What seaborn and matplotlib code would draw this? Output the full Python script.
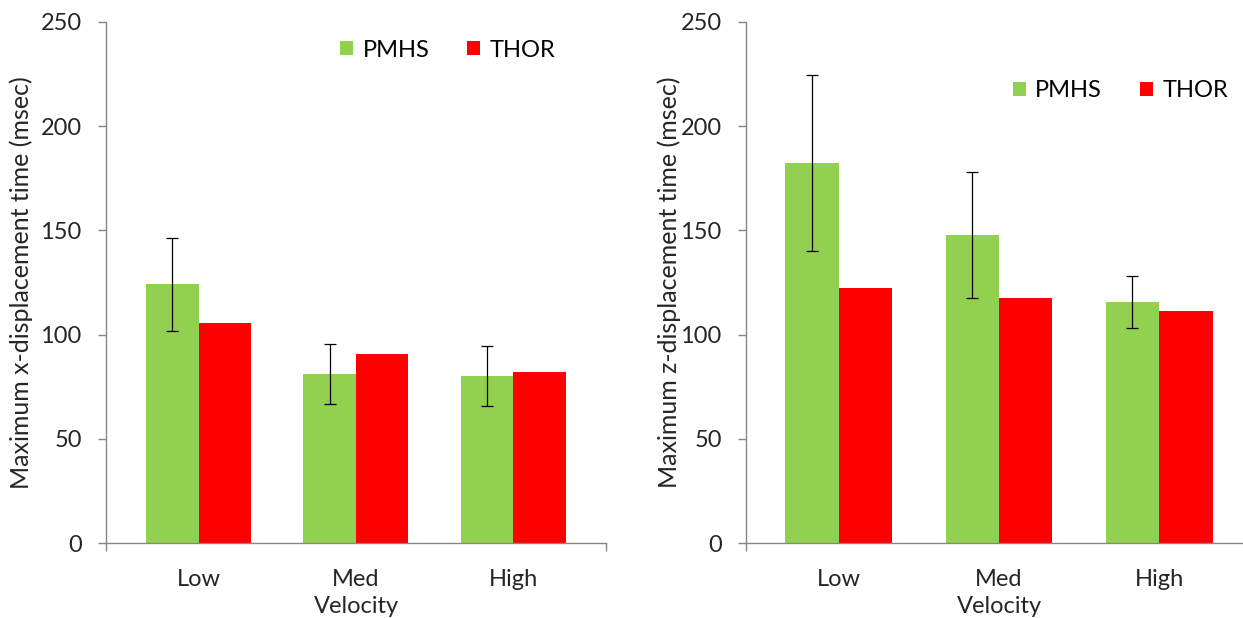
import matplotlib
matplotlib.use("Agg")
import matplotlib.pyplot as plt
import seaborn as sns
import pandas as pd
import numpy as np

categories = ["Low", "Med", "High"]
series = ["PMHS", "THOR"]

x_pmhs = [124.1, 81.1, 79.9]
x_pmhs_err = [22.3, 14.5, 14.4]
x_thor = [105.5, 90.5, 82.2]

z_pmhs = [182.4, 147.7, 115.7]
z_pmhs_err = [42.2, 30.2, 12.6]
z_thor = [122.5, 117.4, 111.2]

colors = {"PMHS": "#92D050", "THOR": "#FF0000"}

sns.set_theme(style="white")
plt.rcParams["font.family"] = ["Lato", "DejaVu Sans"]

fig = plt.figure(figsize=(12.43, 6.18), dpi=100)
W, H = 1243, 618
ax1 = fig.add_axes([106 / W, (H - 543) / H, 500 / W, 521 / H])
ax2 = fig.add_axes([746 / W, (H - 543) / H, 506 / W, 521 / H])

gray = "#868686"
fs_tick = 17
fs_lab = 18
fs_leg = 17


def panel(ax, pmhs, err, thor, ylabel, label_x, leg_anchor, xlim):
    df = pd.DataFrame({
        "Velocity": categories * 2,
        "Series": ["PMHS"] * 3 + ["THOR"] * 3,
        "Value": list(pmhs) + list(thor),
    })
    sns.barplot(data=df, x="Velocity", y="Value", hue="Series",
                hue_order=series, order=categories, palette=colors,
                errorbar=None, width=0.667, saturation=1, ax=ax,
                linewidth=0)
    cont = ax.containers[0]
    xs = [b.get_x() + b.get_width() / 2 for b in cont]
    ax.errorbar(xs, pmhs, yerr=err, fmt="none", ecolor="black",
                elinewidth=0.9, capsize=4.3, capthick=0.9, zorder=5)
    ax.set_xlim(*xlim)
    ax.set_ylim(0, 250)
    ax.set_yticks([0, 50, 100, 150, 200, 250])
    ax.set_ylabel(ylabel, fontsize=fs_lab)
    ax.yaxis.set_label_coords(label_x, 0.5)
    ax.set_xlabel("Velocity", fontsize=17, labelpad=4)
    for s in ["top", "right"]:
        ax.spines[s].set_visible(False)
    for s in ["left", "bottom"]:
        ax.spines[s].set_color(gray)
        ax.spines[s].set_linewidth(1.0)
    ax.tick_params(axis="y", which="major", direction="out", length=5.5,
                   color=gray, width=1.0, labelsize=fs_tick, pad=12,
                   left=True)
    ax.tick_params(axis="x", which="major", length=0, labelsize=17,
                   pad=19)
    ax.set_xticks(list(xlim), minor=True)
    ax.tick_params(axis="x", which="minor", direction="out", length=6,
                   color=gray, width=1.0, bottom=True)
    ax.grid(False)
    leg = ax.legend(loc="center", bbox_to_anchor=leg_anchor, ncol=2,
                    frameon=False, fontsize=fs_leg, handlelength=0.55,
                    handleheight=0.55, handletextpad=0.4,
                    columnspacing=1.6)
    for t in leg.get_texts():
        t.set_color("black")


panel(ax1, x_pmhs, x_pmhs_err, x_thor,
      "Maximum x-displacement time (msec)", -0.146, (0.684, 0.946),
      (-0.589, 2.591))
panel(ax2, z_pmhs, z_pmhs_err, z_thor,
      "Maximum z-displacement time (msec)", -0.128, (0.74, 0.868),
      (-0.58, 2.58))

fig.savefig("out.png", dpi=100, facecolor="white")
